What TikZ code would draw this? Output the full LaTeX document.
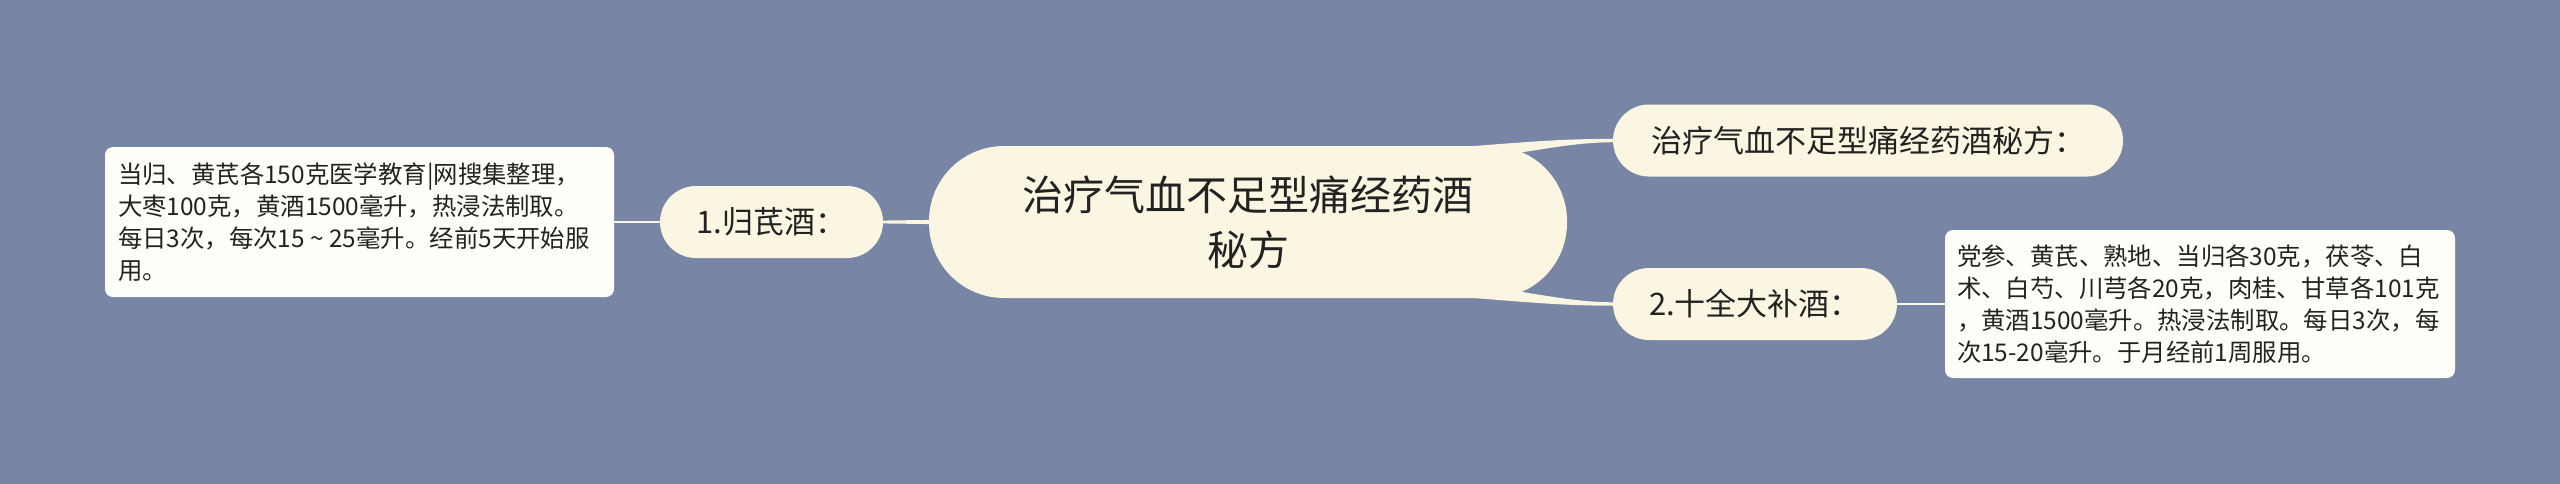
\documentclass[tikz,border=0pt]{standalone}
\usepackage{fontspec}
\setmainfont{Noto Sans CJK SC}
\usetikzlibrary{backgrounds,calc}
\definecolor{bgc}{RGB}{121,133,165}
\definecolor{cream}{RGB}{250,246,225}
\definecolor{leaffill}{RGB}{255,255,250}
\definecolor{txt}{RGB}{34,34,34}
\tikzset{
  centernode/.style={fill=cream, rounded corners=75pt, minimum width=638pt, minimum height=152pt, inner sep=0pt, align=center, text=txt, font=\fontsize{41}{55}\selectfont},
  branchnode/.style={fill=cream, rounded corners=36pt, minimum height=72pt, inner sep=0pt, text=txt, font=\fontsize{31}{36}\selectfont},
  leafnode/.style={fill=leaffill, rounded corners=8pt, minimum width=509pt, minimum height=150pt, inner xsep=13pt, inner ysep=0pt, text width=483pt, align=left, text=txt, font=\fontsize{24.4}{32}\selectfont},
  link/.style={fill=cream},
  linkline/.style={draw=cream, line width=2.6pt}
}
\begin{document}
\begin{tikzpicture}[x=1pt,y=1pt]
\useasboundingbox (0,0) rectangle (2560,-483);
\begin{pgfonlayer}{background}
\fill[bgc] (-6,6) rectangle (2566,-489);
\end{pgfonlayer}

\node[centernode] (c) at (1248,-222) {治疗气血不足型痛经药酒\\秘方};
\node[branchnode, minimum width=223pt] (b1) at (771.5,-222) {1.归芪酒：};
\node[leafnode] (l1) at (359.5,-222) {当归、黄芪各150克医学教育|网搜集整理，\\大枣100克，黄酒1500毫升，热浸法制取。\\每日3次，每次15\makebox[1em]{\textasciitilde}25毫升。经前5天开始服\\用。};
\node[branchnode, minimum width=510pt] (bt) at (1868,-140.5) {治疗气血不足型痛经药酒秘方：};
\node[branchnode, minimum width=284pt] (b2) at (1755,-304) {2.十全大补酒：};
\node[leafnode, minimum width=510pt, minimum height=148pt, inner xsep=12pt, text width=486pt] (l2) at (2200,-304) {党参、黄芪、熟地、当归各30克，茯苓、白\\术、白芍、川芎各20克，肉桂、甘草各101克\\，黄酒1500毫升。热浸法制取。每日3次，每\\次15-20毫升。于月经前1周服用。};

\begin{pgfonlayer}{background}
\fill[link] ($(c.west)+(10,2.2)$) -- ($(b1.east)+(-2,1.4)$) -- ($(b1.east)+(-2,-1.4)$) -- ($(c.west)+(10,-2.2)$) -- cycle;
\draw[linkline] (b1.west) -- (l1.east);
\fill[link] ($(c.north)+(190,-3)$) .. controls +(80,6) and +(-60,0) .. ($(bt.west)+(2,1.7)$) -- ($(bt.west)+(2,-1.7)$) .. controls +(-60,0) and +(70,0) .. ($(c.north)+(190,-14)$) -- cycle;
\fill[link] ($(c.south)+(190,3)$) .. controls +(80,-6) and +(-60,0) .. ($(b2.west)+(2,-1.7)$) -- ($(b2.west)+(2,1.7)$) .. controls +(-60,0) and +(70,0) .. ($(c.south)+(190,14)$) -- cycle;
\draw[linkline] (b2.east) -- (l2.west);
\end{pgfonlayer}
\end{tikzpicture}
\end{document}
